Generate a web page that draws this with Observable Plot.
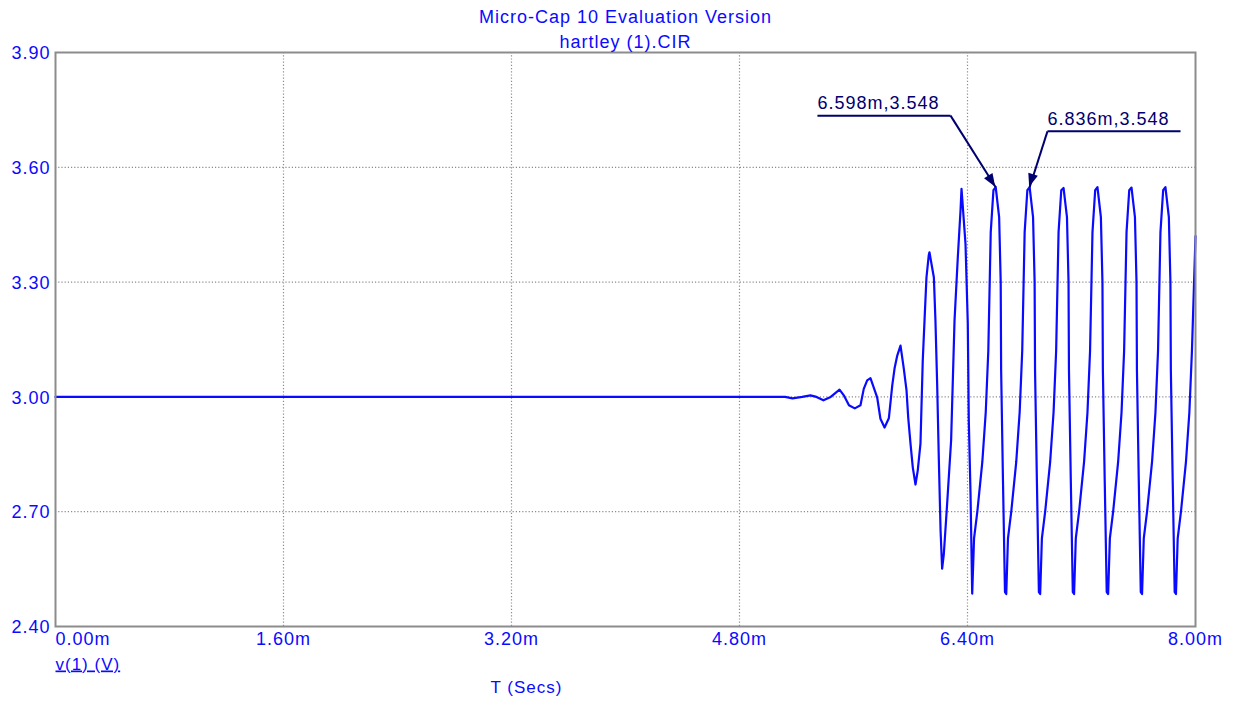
<!DOCTYPE html>
<html>
<head>
<meta charset="utf-8">
<script src="https://cdn.jsdelivr.net/npm/d3@7"></script>
<script src="https://cdn.jsdelivr.net/npm/@observablehq/plot@0.6"></script>
<style>
  html, body { margin: 0; padding: 0; background: #ffffff; overflow: hidden; }
</style>
</head>
<body>
<div id="chart"></div>
<script>
// ---- Data (time in ms, voltage in V) ----
const titleLines = ["Micro-Cap 10 Evaluation Version", "hartley (1).CIR"];
const xTicks = [0, 1.6, 3.2, 4.8, 6.4, 8.0];
const yTicks = [2.4, 2.7, 3.0, 3.3, 3.6, 3.9];
const xGrid = [1.6, 3.2, 4.8, 6.4];
const yGrid = [2.7, 3.0, 3.3, 3.6];
const xLabel = "T (Secs)";
const traceLabel = "v(1) (V)";

const timeMs = [
  0.000, 5.120, 5.172, 5.240, 5.298, 5.340, 5.389, 5.440, 5.502, 5.532,
  5.568, 5.609, 5.649, 5.672, 5.696, 5.719, 5.766, 5.789, 5.818, 5.848,
  5.872, 5.888, 5.907, 5.930, 5.953, 5.972, 5.984, 6.000, 6.016, 6.035,
  6.051, 6.070, 6.086, 6.100, 6.112, 6.128, 6.133, 6.164, 6.175, 6.187,
  6.199, 6.211, 6.222, 6.234, 6.257, 6.285, 6.309, 6.332, 6.351, 6.358,
  6.386, 6.402, 6.409, 6.421, 6.433,
  6.446, 6.469, 6.504, 6.528, 6.546, 6.563, 6.582, 6.598, 6.622, 6.633, 6.636, 6.649, 6.663,
  6.672, 6.684, 6.707, 6.742, 6.766, 6.784, 6.801, 6.820, 6.836, 6.860, 6.871, 6.874, 6.887, 6.901,
  6.910, 6.922, 6.945, 6.980, 7.004, 7.022, 7.039, 7.058, 7.074, 7.098, 7.109, 7.112, 7.125, 7.139,
  7.148, 7.160, 7.183, 7.218, 7.242, 7.260, 7.277, 7.296, 7.312, 7.336, 7.347, 7.350, 7.363, 7.377,
  7.387, 7.399, 7.422, 7.457, 7.481, 7.499, 7.516, 7.535, 7.551, 7.575, 7.586, 7.589, 7.602, 7.616,
  7.625, 7.637, 7.660, 7.695, 7.719, 7.737, 7.754, 7.773, 7.789, 7.813, 7.824, 7.827, 7.840, 7.854,
  7.863, 7.875, 7.898, 7.933, 7.957, 7.975, 8.000
];
const volts = [
  3.000, 3.000, 2.996, 3.000, 3.004, 3.000, 2.991, 3.000, 3.019, 3.004,
  2.978, 2.970, 2.978, 3.021, 3.043, 3.049, 2.999, 2.943, 2.920, 2.944,
  3.030, 3.074, 3.108, 3.134, 3.074, 3.017, 2.946, 2.878, 2.816, 2.771,
  2.808, 2.878, 3.095, 3.213, 3.312, 3.370, 3.378, 3.312, 3.200, 3.035,
  2.834, 2.651, 2.551, 2.590, 2.720, 2.886, 3.200, 3.365, 3.487, 3.544,
  3.400, 3.192, 2.940, 2.750, 2.486,
  2.630, 2.700, 2.830, 2.960, 3.120, 3.430, 3.540, 3.548, 3.470, 3.300, 3.070, 2.780, 2.490,
  2.485, 2.630, 2.700, 2.830, 2.960, 3.120, 3.430, 3.540, 3.548, 3.470, 3.300, 3.070, 2.780, 2.490,
  2.485, 2.630, 2.700, 2.830, 2.960, 3.120, 3.430, 3.540, 3.546, 3.470, 3.300, 3.070, 2.780, 2.490,
  2.485, 2.630, 2.700, 2.830, 2.960, 3.120, 3.430, 3.540, 3.548, 3.470, 3.300, 3.070, 2.780, 2.490,
  2.485, 2.630, 2.700, 2.830, 2.960, 3.120, 3.430, 3.540, 3.547, 3.470, 3.300, 3.070, 2.780, 2.490,
  2.485, 2.630, 2.700, 2.830, 2.960, 3.120, 3.430, 3.540, 3.548, 3.470, 3.300, 3.070, 2.780, 2.490,
  2.485, 2.630, 2.700, 2.830, 2.960, 3.120, 3.420
];

// Peak annotations (cursor readouts) and their label anchors, in data units
const annotText = ["6.598m,3.548", "6.836m,3.548"];
const annotTipT = [6.598, 6.836];
const annotTipV = [3.548, 3.548];
const annotLeaderT = [6.281, 6.961];   // where the arrow leaves the underline
const annotLineEndT = [5.347, 7.895];  // other end of the underline
const annotLineV = [3.735, 3.694];
const annotTextT = [5.347, 6.961];     // left edge of label text

// ---- Build tables ----
const trace = timeMs.map((t, i) => ({t, v: volts[i]}));
const annots = annotText.map((label, i) => ({
  label,
  tipT: annotTipT[i], tipV: annotTipV[i],
  leadT: annotLeaderT[i], endT: annotLineEndT[i], lineV: annotLineV[i],
  textT: annotTextT[i]
}));

const BLUE = "#0a0aff";
const NAVY = "#00006e";
const GRAY = "#8c8c8c";

// filled arrowheads placed with the plot's own x/y scales
function arrowHeads(index, scales) {
  const g = d3.create("svg:g").attr("fill", NAVY);
  for (const a of annots) {
    const tx = scales.x(a.tipT), ty = scales.y(a.tipV);
    const sx = scales.x(a.leadT), sy = scales.y(a.lineV);
    const ang = Math.atan2(ty - sy, tx - sx);
    const L = 13, W = 5;
    const bx = tx - L * Math.cos(ang), by = ty - L * Math.sin(ang);
    const nx = -Math.sin(ang) * W, ny = Math.cos(ang) * W;
    g.append("path")
      .attr("d", `M${tx},${ty}L${bx + nx},${by + ny}L${bx - nx},${by - ny}Z`);
  }
  return g.node();
}

const chart = Plot.plot({
  width: 1235,
  height: 704,
  marginLeft: 55,
  marginRight: 40,
  marginTop: 52,
  marginBottom: 78,
  style: "font-family: 'Liberation Sans', Arial, sans-serif; letter-spacing: 1px; background: #ffffff;",
  x: {domain: [0, 8], axis: null},
  y: {domain: [2.4, 3.9], axis: null},
  marks: [
    Plot.ruleX(xGrid, {stroke: GRAY, strokeWidth: 1.2, strokeDasharray: "1.2,2"}),
    Plot.ruleY(yGrid, {stroke: GRAY, strokeWidth: 1.2, strokeDasharray: "1.2,2"}),
    Plot.line(trace, {x: "t", y: "v", stroke: BLUE, strokeWidth: 2.2}),
    Plot.frame({stroke: GRAY, strokeWidth: 2}),
    // annotations
    Plot.link(annots, {x1: "endT", y1: "lineV", x2: "leadT", y2: "lineV", stroke: NAVY, strokeWidth: 2}),
    Plot.link(annots, {x1: "leadT", y1: "lineV", x2: "tipT", y2: "tipV", stroke: NAVY, strokeWidth: 2}),
    arrowHeads,
    Plot.text(annots, {x: "textT", y: "lineV", text: "label", textAnchor: "start", dy: -12, fontSize: 18, fill: NAVY}),
    // y tick labels
    Plot.text(yTicks, {y: d => d, frameAnchor: "left", text: d => d.toFixed(2), textAnchor: "end", dx: -5, dy: 1, fontSize: 18, fill: BLUE}),
    // x tick labels
    Plot.text(xTicks.slice(0, 1), {x: d => d, frameAnchor: "bottom", text: d => d.toFixed(2) + "m", textAnchor: "start", dy: 18, fontSize: 18, fill: BLUE}),
    Plot.text(xTicks.slice(1), {x: d => d, frameAnchor: "bottom", text: d => d.toFixed(2) + "m", dy: 18, fontSize: 18, fill: BLUE}),
    // trace name and axis title
    Plot.text([traceLabel], {frameAnchor: "bottom-left", text: d => d, textAnchor: "start", dy: 43, fontSize: 17, fill: BLUE}),
    Plot.text([xLabel], {frameAnchor: "bottom", text: d => d, dx: -99, dy: 66, fontSize: 17, fill: BLUE}),
    // titles
    Plot.text([titleLines[0]], {frameAnchor: "top", text: d => d, dy: -42, fontSize: 18, fill: BLUE}),
    Plot.text([titleLines[1]], {frameAnchor: "top", text: d => d, dy: -17, fontSize: 18, fill: BLUE})
  ]
});

d3.select(chart).selectAll("text")
  .filter(function() { return this.textContent === traceLabel; })
  .style("text-decoration", "underline");

document.getElementById("chart").appendChild(chart);
</script>
</body>
</html>
